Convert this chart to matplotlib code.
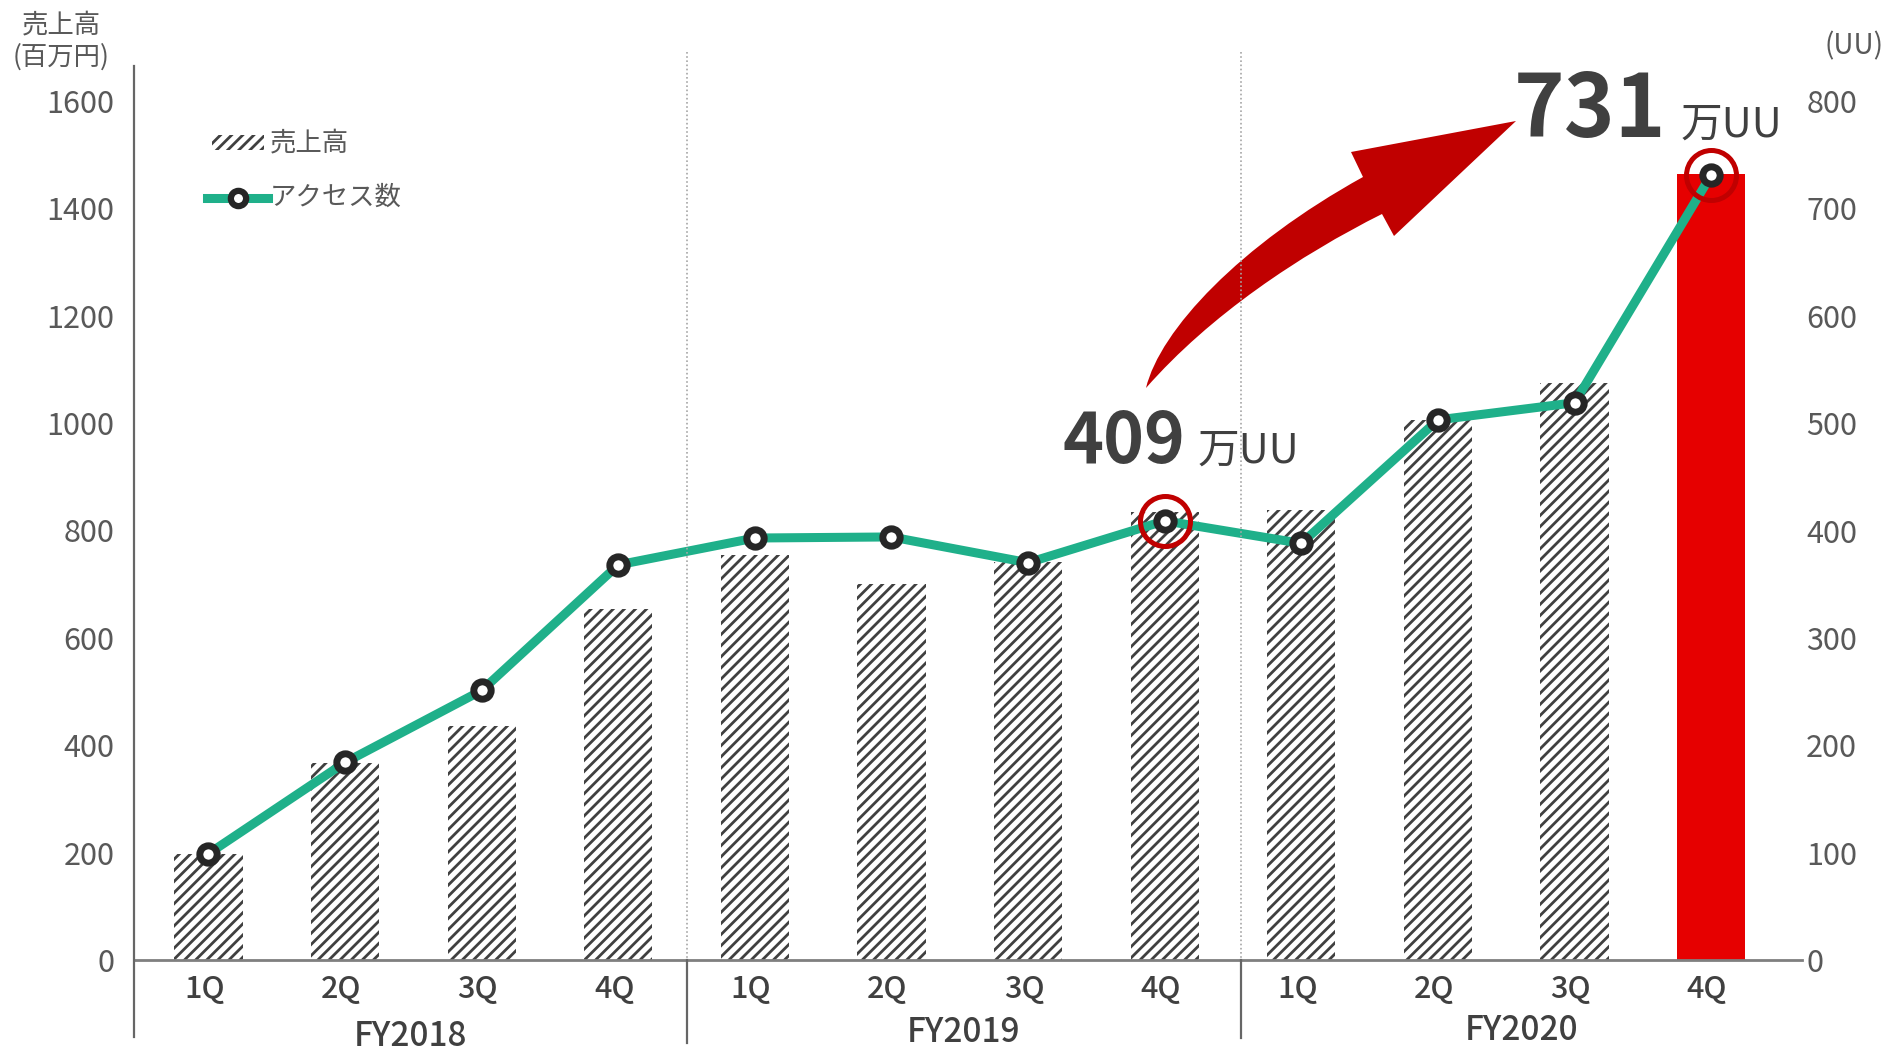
import matplotlib
matplotlib.use('Agg')
import matplotlib.pyplot as plt
from matplotlib.lines import Line2D
from matplotlib.patches import Rectangle, PathPatch
from matplotlib.path import Path
from matplotlib.transforms import blended_transform_factory

plt.rcParams['font.family'] = ['Noto Sans CJK JP', 'DejaVu Sans']
plt.rcParams['hatch.linewidth'] = 2.0

# データ
quarters = ['1Q', '2Q', '3Q', '4Q'] * 3
years = ['FY2018', 'FY2019', 'FY2020']
sales = [198, 367, 435, 653, 755, 701, 742, 834, 839, 1006, 1075, 1464]   # 売上高 (百万円)
access = [99, 184, 251, 368, 393, 394, 370, 409, 388, 503, 519, 731]      # アクセス数 (万UU)
left_ticks = [0, 200, 400, 600, 800, 1000, 1200, 1400, 1600]
right_ticks = [0, 100, 200, 300, 400, 500, 600, 700, 800]
highlight = [7, 11]

W, H = 1888, 1052
GREEN = '#1fb08a'
DARK = '#404040'
GRAY = '#595959'
RED = '#c00000'


def px(x, y):
    # ピクセル座標 -> figure座標
    return x / W, 1 - y / H


fig = plt.figure(figsize=(W / 100, H / 100), dpi=100)
ax = fig.add_axes([134 / W, (H - 960) / H, (1802 - 134) / W, (960 - 101) / H])
ax2 = ax.twinx()

x = list(range(len(sales)))
bars = ax.bar(x, sales, width=0.5, color='white', edgecolor=DARK,
              linewidth=0, hatch='///', zorder=2)
bars[-1].set_hatch('')
bars[-1].set_facecolor('#e60000')

ax2.plot(x, access, color=GREEN, lw=6.5, marker='o', ms=12.5,
         mfc='white', mec='#262626', mew=5, zorder=3)
ax2.plot([x[i] for i in highlight], [access[i] for i in highlight],
         ls='none', marker='o', ms=36, mfc='none', mec=RED, mew=3.6, zorder=4)

ax.set_xlim(-0.545, 11.665)
ax.set_ylim(0, 1600)
ax2.set_ylim(0, 800)
ax.set_xticks([])
ax.set_yticks(left_ticks)
ax2.set_yticks(right_ticks)
ax.tick_params(axis='y', length=0, pad=14, labelsize=22, labelcolor=GRAY)
ax2.tick_params(axis='y', length=0, pad=3, labelsize=22, labelcolor=GRAY)
for a in (ax, ax2):
    for s in a.spines.values():
        s.set_visible(False)
ax.spines['bottom'].set_visible(True)
ax.spines['bottom'].set_color('#7f7f7f')
ax.spines['bottom'].set_linewidth(2)

# 縦軸線・区切り線
fig.add_artist(Line2D([134 / W, 134 / W], [1 - 66 / H, 1 - 1037 / H],
                      color='#666666', lw=1.6))
trans = blended_transform_factory(ax.transData, fig.transFigure)
for sx, bottom in [(3.5, 1043), (7.56, 1038)]:
    fig.add_artist(Line2D([sx, sx], [1 - 52 / H, 1 - 960 / H], transform=trans,
                          color='#a6a6a6', lw=1.2, ls=(0, (1, 1.5))))
    fig.add_artist(Line2D([sx, sx], [1 - 960 / H, 1 - bottom / H], transform=trans,
                          color='#666666', lw=1.6))

# 横軸ラベル
for i, q in enumerate(quarters):
    ax.text(i - 0.03, 1 - 989 / H, q, transform=trans, ha='center', va='center',
            fontsize=22, color=DARK, fontweight='medium')
for j, (y, fy) in enumerate(zip([1036, 1032, 1030], years)):
    lo = -0.545 if j == 0 else [3.5, 7.56][j - 1]
    hi = [3.5, 7.56, 11.665][j]
    ax.text((lo + hi) / 2, 1 - y / H, fy, transform=trans, ha='center',
            va='center', fontsize=24, color=DARK, fontweight='medium')

# 軸タイトル
fig.text(*px(61, 25), '売上高', ha='center', va='center', fontsize=19, color=GRAY)
fig.text(*px(61, 57), '(百万円)', ha='center', va='center', fontsize=19, color=GRAY)
fig.text(*px(1854, 46), '(UU)', ha='center', va='center', fontsize=20, color=GRAY)

# 凡例
x0, y0 = px(212, 150)
fig.add_artist(Rectangle((x0, y0), 52 / W, 15 / H, transform=fig.transFigure,
                         facecolor='white', edgecolor=DARK, lw=0, hatch='///'))
fig.add_artist(Line2D([207 / W, 268 / W], [1 - 198 / H] * 2, color=GREEN, lw=6.5))
fig.add_artist(Line2D([237.5 / W], [1 - 198 / H], marker='o', ms=11, mfc='white',
                      mec='#262626', mew=4.5))
fig.text(*px(270, 143), '売上高', va='center', fontsize=19, color=GRAY)
fig.text(*px(270, 197), 'アクセス数', va='center', fontsize=19, color=GRAY)

# 矢印
verts = [(1146, 388), (1160, 330), (1240, 245), (1363, 177),
         (1351, 152), (1516, 121), (1394, 236), (1382, 214),
         (1300, 255), (1210, 315), (1146, 388), (1146, 388)]
codes = [Path.MOVETO, Path.CURVE4, Path.CURVE4, Path.CURVE4,
         Path.LINETO, Path.LINETO, Path.LINETO, Path.LINETO,
         Path.CURVE4, Path.CURVE4, Path.CURVE4, Path.CLOSEPOLY]
arrow = Path([px(a, b) for a, b in verts], codes)
fig.add_artist(PathPatch(arrow, transform=fig.transFigure, facecolor=RED,
                         edgecolor='none'))

# 注記
fig.text(*px(1514, 137), '731', va='baseline', fontsize=62, color=DARK,
         fontweight='bold')
fig.text(*px(1681, 137), '万UU', va='baseline', fontsize=30, color=DARK)
fig.text(*px(1062, 463), '409', va='baseline', fontsize=50, color=DARK,
         fontweight='bold')
fig.text(*px(1198, 463), '万UU', va='baseline', fontsize=30, color=DARK)

fig.savefig('out.png', dpi=100)
